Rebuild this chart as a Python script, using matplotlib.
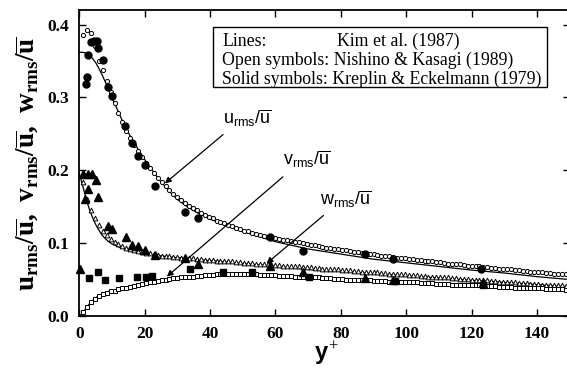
import matplotlib
matplotlib.use("Agg")
import matplotlib.pyplot as plt
from matplotlib.patches import Rectangle

plt.rcParams['font.family'] = 'Liberation Serif'
plt.rcParams['mathtext.fontset'] = 'custom'
plt.rcParams['mathtext.bf'] = 'Liberation Serif:bold'
plt.rcParams['mathtext.rm'] = 'Liberation Serif'
plt.rcParams['mathtext.sf'] = 'Liberation Sans'
plt.rcParams['mathtext.it'] = 'Liberation Sans:bold'

# Kim et al. (1987) DNS - lines
yp_kim = [0, 1, 2, 3, 4, 5, 6, 7, 8, 9, 10, 11, 12, 13, 14, 15, 16, 18, 20, 22,
          24, 26, 28, 30, 33, 36, 40, 45, 50, 55, 60, 70, 80, 90, 100, 110, 120, 130, 140, 150]
u_kim = [0.362, 0.362, 0.361, 0.358, 0.354, 0.348, 0.340, 0.331, 0.321, 0.311,
         0.300, 0.290, 0.280, 0.270, 0.261, 0.252, 0.244, 0.229, 0.215, 0.202,
         0.190, 0.179, 0.169, 0.160, 0.150, 0.142, 0.133, 0.124, 0.116, 0.109,
         0.102, 0.092, 0.085, 0.078, 0.073, 0.068, 0.063, 0.059, 0.054, 0.050]
v_kim = [0.000, 0.004, 0.010, 0.016, 0.021, 0.025, 0.028, 0.030, 0.032, 0.034,
         0.035, 0.036, 0.037, 0.038, 0.039, 0.040, 0.041, 0.043, 0.045, 0.046,
         0.048, 0.049, 0.050, 0.051, 0.053, 0.054, 0.055, 0.055, 0.056, 0.055,
         0.055, 0.053, 0.051, 0.049, 0.047, 0.045, 0.043, 0.041, 0.039, 0.037]
w_kim = [0.196, 0.180, 0.163, 0.148, 0.136, 0.126, 0.118, 0.111, 0.106, 0.102,
         0.099, 0.097, 0.095, 0.093, 0.092, 0.090, 0.089, 0.087, 0.086, 0.084,
         0.083, 0.082, 0.081, 0.080, 0.079, 0.077, 0.076, 0.074, 0.072, 0.070,
         0.068, 0.064, 0.061, 0.058, 0.055, 0.052, 0.049, 0.046, 0.043, 0.040]

# Nishino & Kasagi (1989) - open symbols
yp_nk = [1.2, 2.4, 3.6, 4.8, 6.0, 7.2, 8.4, 9.6, 10.8, 12.0,
         13.2, 14.4, 15.6, 16.8, 18.0, 19.2, 20.4, 21.6, 22.8, 24.0,
         25.2, 26.4, 27.6, 28.8, 30.0, 31.2, 32.4, 33.6, 34.8, 36.0,
         37.2, 38.4, 39.6, 40.8, 42.0, 43.2, 44.4, 45.6, 46.8, 48.0,
         49.2, 50.4, 51.6, 52.8, 54.0, 55.2, 56.4, 57.6, 58.8, 60.0,
         61.2, 62.4, 63.6, 64.8, 66.0, 67.2, 68.4, 69.6, 70.8, 72.0,
         73.2, 74.4, 75.6, 76.8, 78.0, 79.2, 80.4, 81.6, 82.8, 84.0,
         85.2, 86.4, 87.6, 88.8, 90.0, 91.2, 92.4, 93.6, 94.8, 96.0,
         97.2, 98.4, 99.6, 100.8, 102.0, 103.2, 104.4, 105.6, 106.8, 108.0,
         109.2, 110.4, 111.6, 112.8, 114.0, 115.2, 116.4, 117.6, 118.8, 120.0,
         121.2, 122.4, 123.6, 124.8, 126.0, 127.2, 128.4, 129.6, 130.8, 132.0,
         133.2, 134.4, 135.6, 136.8, 138.0, 139.2, 140.4, 141.6, 142.8, 144.0,
         145.2, 146.4, 147.6, 148.8]
u_nk = [0.386, 0.392, 0.388, 0.370, 0.350, 0.338, 0.323, 0.307, 0.292, 0.279,
        0.266, 0.254, 0.244, 0.235, 0.226, 0.218, 0.210, 0.203, 0.196, 0.190,
        0.184, 0.178, 0.173, 0.168, 0.163, 0.159, 0.155, 0.151, 0.148, 0.145,
        0.142, 0.139, 0.136, 0.134, 0.131, 0.129, 0.127, 0.125, 0.123, 0.121,
        0.119, 0.117, 0.116, 0.114, 0.113, 0.111, 0.110, 0.109, 0.108, 0.107,
        0.106, 0.105, 0.104, 0.103, 0.102, 0.101, 0.100, 0.099, 0.098, 0.097,
        0.096, 0.095, 0.094, 0.093, 0.092, 0.092, 0.091, 0.090, 0.089, 0.088,
        0.088, 0.087, 0.086, 0.085, 0.085, 0.084, 0.083, 0.083, 0.082, 0.081,
        0.080, 0.080, 0.079, 0.078, 0.078, 0.077, 0.077, 0.076, 0.075, 0.075,
        0.074, 0.074, 0.073, 0.072, 0.072, 0.071, 0.071, 0.070, 0.069, 0.069,
        0.068, 0.068, 0.067, 0.067, 0.066, 0.066, 0.065, 0.065, 0.064, 0.064,
        0.063, 0.063, 0.062, 0.062, 0.061, 0.061, 0.060, 0.060, 0.059, 0.059,
        0.058, 0.058, 0.057, 0.057]
v_nk = [0.006, 0.013, 0.019, 0.024, 0.027, 0.030, 0.032, 0.034, 0.035, 0.037,
        0.038, 0.039, 0.040, 0.041, 0.043, 0.044, 0.045, 0.046, 0.047, 0.048,
        0.049, 0.050, 0.051, 0.052, 0.052, 0.053, 0.053, 0.054, 0.054, 0.055,
        0.055, 0.056, 0.056, 0.056, 0.057, 0.057, 0.057, 0.057, 0.057, 0.057,
        0.057, 0.057, 0.057, 0.057, 0.057, 0.056, 0.056, 0.056, 0.056, 0.056,
        0.055, 0.055, 0.055, 0.055, 0.054, 0.054, 0.054, 0.054, 0.053, 0.053,
        0.053, 0.052, 0.052, 0.052, 0.051, 0.051, 0.051, 0.050, 0.050, 0.050,
        0.049, 0.049, 0.049, 0.049, 0.048, 0.048, 0.048, 0.048, 0.047, 0.047,
        0.047, 0.047, 0.046, 0.046, 0.046, 0.046, 0.045, 0.045, 0.045, 0.045,
        0.044, 0.044, 0.044, 0.044, 0.043, 0.043, 0.043, 0.043, 0.042, 0.042,
        0.042, 0.042, 0.041, 0.041, 0.041, 0.041, 0.040, 0.040, 0.040, 0.040,
        0.039, 0.039, 0.039, 0.039, 0.038, 0.038, 0.038, 0.038, 0.037, 0.037,
        0.037, 0.037, 0.037, 0.036]
w_nk = [0.184, 0.160, 0.145, 0.134, 0.125, 0.117, 0.111, 0.106, 0.102, 0.099,
        0.096, 0.094, 0.092, 0.091, 0.089, 0.088, 0.087, 0.086, 0.085, 0.084,
        0.083, 0.083, 0.082, 0.081, 0.081, 0.080, 0.080, 0.079, 0.079, 0.078,
        0.078, 0.077, 0.077, 0.077, 0.076, 0.076, 0.075, 0.075, 0.075, 0.074,
        0.074, 0.073, 0.073, 0.073, 0.072, 0.072, 0.071, 0.071, 0.071, 0.070,
        0.070, 0.069, 0.069, 0.069, 0.068, 0.068, 0.067, 0.067, 0.067, 0.066,
        0.066, 0.065, 0.065, 0.065, 0.064, 0.064, 0.063, 0.063, 0.063, 0.062,
        0.062, 0.061, 0.061, 0.060, 0.060, 0.060, 0.059, 0.059, 0.058, 0.058,
        0.058, 0.057, 0.057, 0.056, 0.056, 0.056, 0.055, 0.055, 0.054, 0.054,
        0.054, 0.053, 0.053, 0.053, 0.052, 0.052, 0.051, 0.051, 0.051, 0.050,
        0.050, 0.049, 0.049, 0.049, 0.048, 0.048, 0.047, 0.047, 0.047, 0.046,
        0.046, 0.045, 0.045, 0.045, 0.044, 0.044, 0.044, 0.043, 0.043, 0.043,
        0.042, 0.042, 0.042, 0.041]

# Kreplin & Eckelmann (1979) - solid symbols
yp_ke_u = [2.1, 2.4, 2.6, 3.6, 4.6, 5.4, 5.9, 7.4, 8.9, 9.9, 14.1, 16.0,
           18.1, 20.1, 23.2, 32.4, 36.2, 58.4, 68.5, 87.4, 95.9, 123.0]
u_ke = [0.319, 0.328, 0.358, 0.376, 0.378, 0.378, 0.368, 0.352, 0.315, 0.302, 0.261, 0.237,
        0.220, 0.207, 0.178, 0.143, 0.135, 0.108, 0.089, 0.085, 0.078, 0.064]
yp_ke_v = [2.9, 5.7, 8.0, 12.1, 17.6, 20.4, 22.3, 33.9, 43.9, 52.7, 70.3, 96.6, 123.6]
v_ke = [0.052, 0.061, 0.049, 0.052, 0.053, 0.054, 0.055, 0.065, 0.061, 0.061, 0.054, 0.048, 0.042]
yp_ke_w = [0.3, 1.3, 1.8, 2.6, 2.8, 4.0, 5.0, 5.8, 8.9, 9.9, 14.2, 16.0, 17.9,
           20.1, 23.2, 32.4, 36.4, 58.4, 68.5, 87.4, 96.0, 123.6]
w_ke = [0.065, 0.195, 0.160, 0.175, 0.195, 0.195, 0.187, 0.163, 0.123, 0.120, 0.108, 0.097, 0.096,
        0.091, 0.084, 0.079, 0.072, 0.068, 0.061, 0.052, 0.050, 0.045]

fig = plt.figure(figsize=(5.67, 3.73), dpi=100)
ax = fig.add_axes([79.2 / 567, 57 / 373, 490.5 / 567, 306 / 373])

for y in (u_kim, v_kim, w_kim):
    ax.plot(yp_kim, y, color='k', lw=0.9, zorder=2)

ax.plot(yp_nk, u_nk, ls='none', marker='o', ms=3.0, mfc='white', mec='k', mew=0.7, zorder=3)
ax.plot(yp_nk, w_nk, ls='none', marker='^', ms=3.4, mfc='white', mec='k', mew=0.7, zorder=3)
ax.plot(yp_nk, v_nk, ls='none', marker='s', ms=2.8, mfc='white', mec='k', mew=0.7, zorder=3)

ax.plot(yp_ke_u, u_ke, ls='none', marker='o', ms=5.0, color='k', zorder=4, clip_on=False)
ax.plot(yp_ke_w, w_ke, ls='none', marker='^', ms=6.0, color='k', zorder=4, clip_on=False)
ax.plot(yp_ke_v, v_ke, ls='none', marker='s', ms=5.0, color='k', zorder=4, clip_on=False)

ax.set_xlim(0, 150)
ax.set_ylim(0, 0.42)
ax.set_xticks([0, 20, 40, 60, 80, 100, 120, 140])
ax.set_yticks([0.0, 0.1, 0.2, 0.3, 0.4])
ax.set_yticklabels(['0.0', '0.1', '0.2', '0.3', '0.4'])
ax.tick_params(direction='in', top=True, right=True, length=5, width=1.0,
               labelsize=12.5, pad=7)
for lab in ax.get_xticklabels() + ax.get_yticklabels():
    lab.set_fontweight('bold')
for sp in ax.spines.values():
    sp.set_linewidth(1.3)

# curve labels with arrows
arrow = dict(arrowstyle='-|>', color='k', lw=0.9, mutation_scale=9, shrinkA=0, shrinkB=0)
ax.annotate('', xy=(26.2, 0.182), xytext=(44.0, 0.249), arrowprops=arrow)
ax.annotate('', xy=(26.8, 0.054), xytext=(62.3, 0.191), arrowprops=arrow)
ax.annotate('', xy=(57.3, 0.072), xytext=(74.7, 0.138), arrowprops=arrow)
ax.text(44.0, 0.263, r'$\mathsf{u_{rms}/\overline{u}}$', fontsize=13, va='baseline')
ax.text(62.3, 0.207, r'$\mathsf{v_{rms}/\overline{u}}$', fontsize=13, va='baseline')
ax.text(73.6, 0.152, r'$\mathsf{w_{rms}/\overline{u}}$', fontsize=13, va='baseline')

# source box
fig.patches.append(Rectangle((212.7 / 567, 1 - 87.3 / 373), 334 / 567, 60 / 373,
                             transform=fig.transFigure, fill=False, ec='k', lw=1.0))
fs = 12.8
fig.text(222 / 567, 1 - 45.5 / 373, 'Lines:', fontsize=fs, va='baseline')
fig.text(337 / 567, 1 - 45.5 / 373, 'Kim et al. (1987)', fontsize=fs, va='baseline')
fig.text(222 / 567, 1 - 64.5 / 373, 'Open symbols: Nishino & Kasagi (1989)', fontsize=fs, va='baseline')
fig.text(222 / 567, 1 - 83.5 / 373, 'Solid symbols: Kreplin & Eckelmann (1979)', fontsize=fs, va='baseline')

fig.text(27.5 / 567, 1 - 164 / 373,
         r'$\mathbf{u_{rms}/\overline{u},\ v_{rms}/\overline{u},\ w_{rms}/\overline{u}}$',
         fontsize=19.5, rotation=90, ha='center', va='center')
fig.text(326 / 567, 1 - 360 / 373, r'$\mathit{y^{+}}$', fontsize=17, ha='center', va='baseline')

fig.savefig('out.png', dpi=100)
